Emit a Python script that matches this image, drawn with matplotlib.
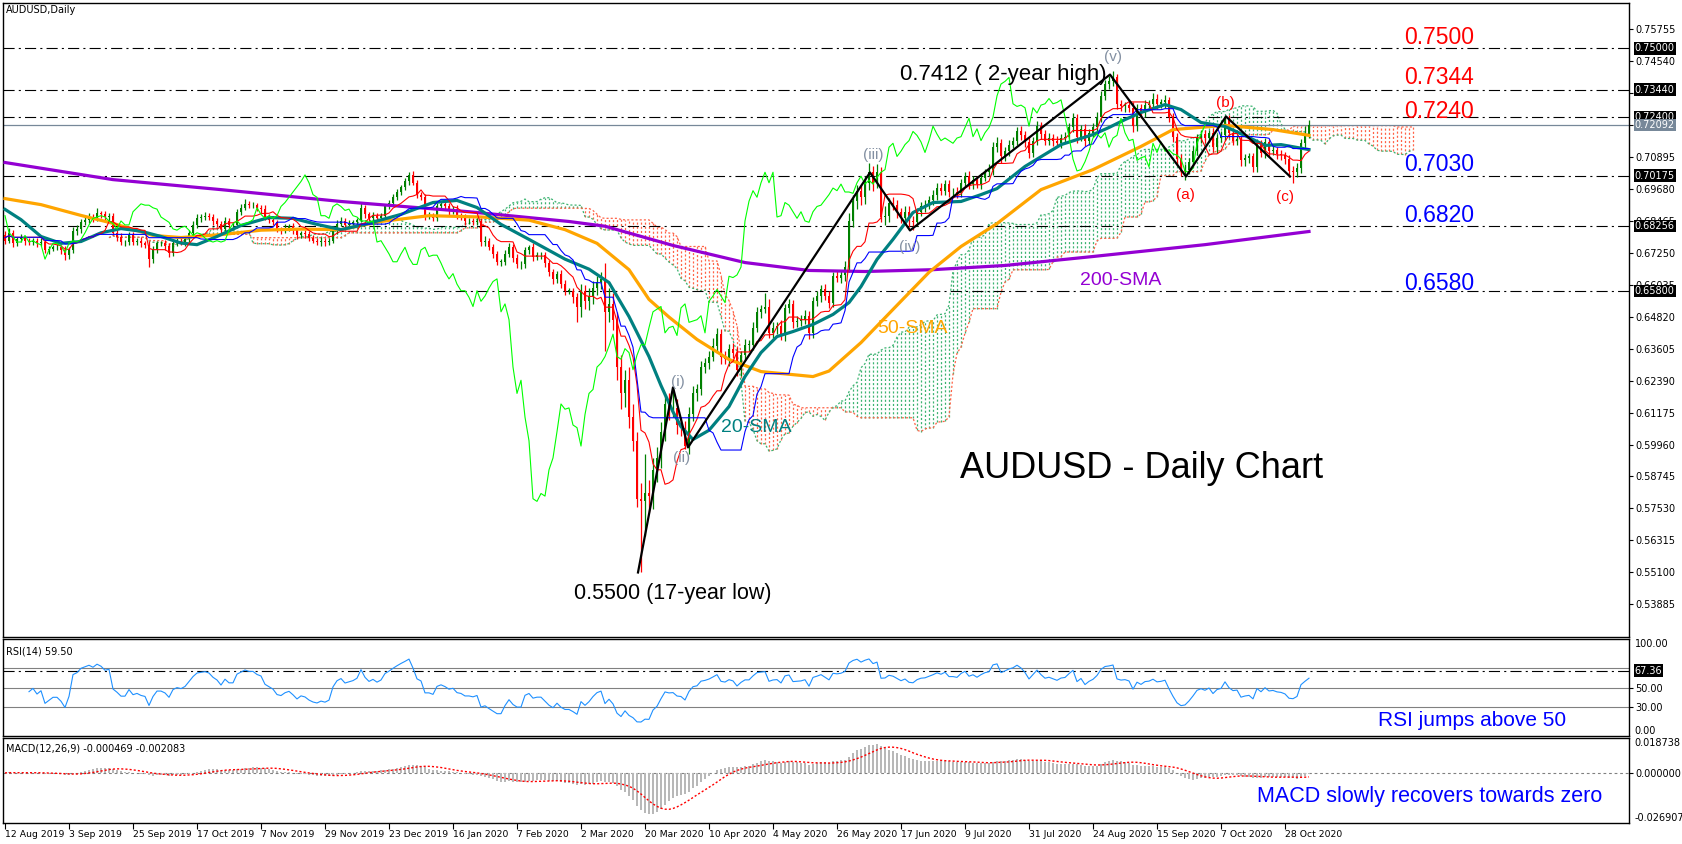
import numpy as np
import pandas as pd
import matplotlib
matplotlib.use('Agg')
import matplotlib.pyplot as plt
import matplotlib.transforms as mtransforms

plt.rcParams['font.family'] = ['Liberation Sans', 'DejaVu Sans']
plt.rcParams['lines.scale_dashes'] = False

# daily closes in pips (0.0001), one row = 16 bars = one date label step
closes_pips = [
    6770, 6800, 6760, 6775, 6780, 6770, 6765, 6770, 6760, 6765, 6735, 6740, 6745, 6745, 6735, 6715,
    6735, 6805, 6815, 6840, 6850, 6860, 6855, 6875, 6870, 6860, 6865, 6800, 6785, 6765, 6765, 6790,
    6765, 6770, 6760, 6755, 6700, 6735, 6760, 6760, 6750, 6725, 6760, 6770, 6765, 6775, 6800, 6830,
    6855, 6860, 6865, 6860, 6845, 6835, 6815, 6845, 6830, 6830, 6880, 6895, 6910, 6905, 6905, 6895,
    6890, 6860, 6850, 6840, 6815, 6810, 6820, 6825, 6810, 6790, 6800, 6795, 6780, 6770, 6765, 6770,
    6765, 6770, 6810, 6835, 6845, 6830, 6835, 6840, 6850, 6895, 6870, 6855, 6865, 6855, 6865, 6900,
    6915, 6935, 6955, 6975, 6995, 7020, 6990, 6945, 6935, 6865, 6865, 6855, 6900, 6910, 6900, 6885,
    6890, 6865, 6860, 6845, 6845, 6840, 6845, 6765, 6770, 6745, 6720, 6690, 6690, 6720, 6745, 6705,
    6680, 6680, 6735, 6745, 6710, 6715, 6715, 6685, 6650, 6625, 6645, 6605, 6580, 6580, 6555, 6520,
    6580, 6540, 6560, 6590, 6615, 6625, 6500, 6530, 6470, 6290, 6190, 6240, 6100, 6010, 5790, 5780,
    5810, 5800, 5900, 5945, 6045, 6150, 6130, 6135, 6070, 6060, 5990, 6110, 6190, 6205, 6290, 6305,
    6330, 6370, 6415, 6330, 6320, 6360, 6345, 6280, 6335, 6375, 6375, 6440, 6500, 6510, 6520, 6420,
    6440, 6445, 6410, 6515, 6530, 6460, 6465, 6470, 6485, 6420, 6540, 6560, 6585, 6560, 6535, 6635,
    6630, 6640, 6670, 6845, 6920, 6960, 6935, 6990, 7030, 6990, 7030, 6860, 6865, 6915, 6905, 6880,
    6855, 6880, 6845, 6840, 6880, 6900, 6905, 6925, 6945, 6970, 6960, 6985, 6955, 6955, 6950, 6990,
    7015, 6985, 7000, 6985, 7010, 7030, 7040, 7125, 7140, 7090, 7110, 7135, 7150, 7185, 7170, 7145,
    7105, 7150, 7205, 7175, 7150, 7160, 7150, 7140, 7160, 7165, 7200, 7235, 7165, 7195, 7150, 7180,
    7200, 7240, 7320, 7365, 7375, 7390, 7290, 7280, 7285, 7275, 7205, 7275, 7255, 7285, 7290, 7310,
    7290, 7295, 7305, 7240, 7165, 7080, 7035, 7040, 7070, 7110, 7160, 7175, 7160, 7180, 7125, 7160,
    7170, 7235, 7180, 7150, 7155, 7075, 7085, 7090, 7050, 7140, 7105, 7145, 7110, 7115, 7100, 7095,
    7080, 7035, 7030, 7045, 7140, 7175, 7209,
]
first_open_pips = 6790

# wick lengths above / below the candle body, in pips
upper_wick_pips = [
    15, 20, 12, 10, 14, 8, 12, 10, 9, 14, 12, 10, 8, 12, 10, 14,
    10, 18, 14, 12, 10, 14, 10, 18, 8, 12, 10, 10, 12, 14, 8, 12,
    12, 10, 14, 10, 12, 14, 10, 8, 12, 10, 14, 10, 16, 12, 10, 14,
    18, 12, 14, 10, 12, 10, 8, 14, 10, 12, 10, 14, 20, 10, 12, 10,
    12, 14, 10, 12, 10, 8, 12, 10, 14, 10, 8, 12, 10, 12, 10, 14,
    12, 10, 14, 12, 16, 10, 12, 10, 8, 20, 12, 10, 14, 10, 12, 10,
    8, 12, 10, 8, 12, 12, 16, 12, 10, 12, 14, 10, 12, 10, 14, 12,
    10, 14, 12, 10, 12, 10, 14, 12, 18, 10, 14, 12, 10, 14, 16, 12,
    14, 12, 12, 10, 16, 12, 14, 12, 10, 14, 10, 12, 14, 10, 12, 18,
    24, 20, 30, 26, 22, 25, 60, 60, 40, 30, 45, 40, 50, 50, 35, 60,
    150, 50, 45, 40, 35, 30, 40, 78, 35, 30, 25, 30, 28, 20, 25, 20,
    22, 30, 25, 18, 20, 18, 20, 22, 18, 20, 18, 22, 20, 16, 50, 30,
    20, 18, 22, 16, 20, 14, 18, 16, 20, 18, 16, 20, 16, 22, 18, 16,
    20, 18, 22, 30, 25, 22, 20, 25, 34, 24, 30, 20, 35, 18, 22, 20,
    16, 20, 22, 18, 14, 16, 18, 14, 16, 18, 20, 14, 16, 14, 18, 16,
    16, 18, 14, 16, 18, 14, 20, 18, 22, 16, 14, 18, 14, 18, 20, 16,
    18, 14, 20, 16, 14, 18, 14, 16, 14, 18, 16, 20, 16, 14, 18, 16,
    16, 20, 18, 16, 20, 23, 14, 16, 12, 18, 20, 14, 16, 18, 14, 20,
    16, 14, 18, 12, 16, 14, 18, 20, 16, 18, 14, 16, 14, 12, 18, 14,
    16, 8, 14, 16, 12, 14, 16, 12, 14, 18, 14, 16, 12, 14, 12, 14,
    12, 14, 18, 20, 16, 30, 20,
]
lower_wick_pips = [
    12, 10, 14, 12, 10, 16, 10, 12, 14, 10, 12, 14, 10, 12, 16, 20,
    14, 10, 12, 14, 10, 12, 14, 10, 12, 10, 14, 10, 16, 12, 14, 10,
    10, 12, 14, 12, 30, 14, 12, 10, 14, 18, 12, 10, 12, 14, 10, 12,
    10, 14, 12, 10, 16, 12, 18, 12, 14, 10, 12, 14, 10, 12, 10, 14,
    16, 12, 14, 10, 12, 14, 10, 12, 14, 12, 10, 14, 12, 10, 12, 14,
    14, 12, 10, 14, 10, 12, 10, 14, 12, 10, 14, 12, 10, 14, 12, 10,
    10, 12, 10, 12, 14, 12, 10, 14, 12, 16, 14, 12, 10, 14, 12, 16,
    12, 14, 10, 14, 12, 10, 12, 16, 14, 12, 14, 12, 16, 14, 12, 16,
    14, 18, 12, 14, 16, 12, 14, 16, 14, 18, 14, 16, 18, 14, 20, 60,
    40, 30, 35, 30, 25, 30, 150, 40, 40, 50, 60, 50, 40, 40, 30, 270,
    130, 60, 50, 45, 40, 35, 40, 30, 35, 30, 10, 30, 25, 28, 22, 24,
    22, 18, 25, 30, 20, 24, 20, 25, 22, 18, 24, 20, 18, 22, 16, 20,
    20, 24, 18, 20, 18, 22, 18, 20, 16, 24, 20, 18, 22, 16, 20, 18,
    18, 20, 22, 20, 24, 30, 28, 24, 26, 32, 20, 20, 30, 24, 20, 22,
    18, 20, 22, 30, 16, 18, 20, 16, 18, 20, 16, 18, 20, 16, 18, 14,
    16, 18, 20, 16, 18, 14, 16, 20, 18, 24, 16, 18, 14, 16, 18, 20,
    20, 16, 18, 20, 16, 18, 20, 16, 18, 14, 16, 18, 24, 16, 20, 18,
    16, 18, 20, 16, 18, 16, 20, 18, 22, 16, 24, 18, 20, 16, 18, 16,
    18, 16, 20, 18, 22, 24, 20, 34, 18, 20, 16, 18, 20, 16, 18, 20,
    16, 18, 20, 18, 16, 20, 22, 18, 20, 18, 16, 20, 18, 16, 20, 18,
    20, 22, 39, 18, 16, 20, 16,
]

# moving averages (bar index, value in pips)
sma20_bars = [0, 4, 9, 14, 19, 24, 29, 34, 39, 44, 48, 53, 59, 66, 72, 78, 84, 90, 99, 107,
              113, 118, 124, 131, 140, 146, 151, 156, 161, 164, 167, 169, 172, 176, 181, 185,
              189, 193, 197, 202, 207, 211, 214, 218, 222, 227, 232, 239, 244, 248, 255, 264,
              272, 276, 280, 284, 290, 294, 299, 305, 311, 315, 319, 326]
sma20_vals = [6889, 6850, 6786, 6760, 6767, 6800, 6816, 6806, 6786, 6761, 6755, 6786, 6828, 6858,
              6855, 6832, 6812, 6832, 6870, 6915, 6923, 6896, 6832, 6775, 6700, 6662, 6611, 6482,
              6330, 6220, 6120, 6064, 6015, 6050, 6140, 6254, 6345, 6406, 6425, 6452, 6490, 6535,
              6596, 6699, 6775, 6877, 6915, 6919, 6945, 6968, 7052, 7135, 7173, 7200, 7230, 7257,
              7287, 7268, 7219, 7204, 7162, 7132, 7135, 7116]
sma50_bars = [0, 9, 19, 27, 37, 44, 54, 64, 74, 84, 94, 106, 119, 131, 140, 148, 156, 161, 166,
              173, 181, 189, 202, 206, 214, 222, 231, 239, 248, 259, 272, 284, 292, 305, 317, 326]
sma50_vals = [6930, 6907, 6866, 6836, 6790, 6782, 6793, 6810, 6814, 6812, 6843, 6865, 6860, 6848,
              6812, 6760, 6660, 6547, 6480, 6395, 6319, 6273, 6254, 6275, 6383, 6509, 6650, 6748,
              6835, 6964, 7040, 7128, 7192, 7208, 7192, 7170]
sma200_bars = [0, 27, 54, 84, 116, 141, 150, 167, 185, 201, 215, 232, 250, 272, 300, 326]
sma200_vals = [7067, 7002, 6964, 6919, 6880, 6843, 6825, 6752, 6687, 6657, 6653, 6660, 6676,
               6710, 6755, 6805]

# elliott wave path
wave_bars = [158.25, 167, 170.75, 216.25, 226.25, 276.25, 295.25, 305.25, 321.25]
wave_prices = [0.5510, 0.6213, 0.5985, 0.7029, 0.6809, 0.7401, 0.7014, 0.7242, 0.7014]
wave_labels = ['(i)', '(ii)', '(iii)', '(iv)', '(v)', '(a)', '(b)', '(c)']
wave_label_bars = [168.25, 169.25, 217, 226.25, 277, 295, 305, 320]
wave_label_prices = [0.6232, 0.5945, 0.7096, 0.6746, 0.7468, 0.6944, 0.7293, 0.6936]

# horizontal levels
level_values = [0.75000, 0.73440, 0.72400, 0.70175, 0.68256, 0.65800]
level_texts = ['0.7500', '0.7344', '0.7240', '0.7030', '0.6820', '0.6580']
level_text_prices = [0.7540, 0.7388, 0.7259, 0.7061, 0.6864, 0.6606]
level_text_colors = ['#ff0000', '#ff0000', '#ff0000', '#0000ff', '#0000ff', '#0000ff']
last_price = 0.72092

price_ticks = [0.75755, 0.74540, 0.73325, 0.72110, 0.70895, 0.69680, 0.68465, 0.67250, 0.66035,
               0.64820, 0.63605, 0.62390, 0.61175, 0.59960, 0.58745, 0.57530, 0.56315, 0.55100,
               0.53885]
hidden_ticks = [0.73325, 0.72110]   # covered by the level boxes

date_labels = ['12 Aug 2019', '3 Sep 2019', '25 Sep 2019', '17 Oct 2019', '7 Nov 2019',
               '29 Nov 2019', '23 Dec 2019', '16 Jan 2020', '7 Feb 2020', '2 Mar 2020',
               '20 Mar 2020', '10 Apr 2020', '4 May 2020', '26 May 2020', '17 Jun 2020',
               '9 Jul 2020', '31 Jul 2020', '24 Aug 2020', '15 Sep 2020', '7 Oct 2020',
               '28 Oct 2020']
label_step = 16

# ---- prices
close = np.array(closes_pips) / 10000
opens = np.concatenate([[first_open_pips / 10000], close[:-1]])
high = np.maximum(opens, close) + np.array(upper_wick_pips) / 10000
low = np.minimum(opens, close) - np.array(lower_wick_pips) / 10000
n = len(close)
bars = np.arange(n)

# ---- ichimoku (9, 26, 52)
hs, ls, cs = pd.Series(high), pd.Series(low), pd.Series(close)
tenkan = (hs.rolling(9, min_periods=1).max() + ls.rolling(9, min_periods=1).min()) / 2
kijun = (hs.rolling(26, min_periods=1).max() + ls.rolling(26, min_periods=1).min()) / 2
span_a = ((tenkan + kijun) / 2).values
span_b = ((hs.rolling(52, min_periods=1).max() + ls.rolling(52, min_periods=1).min()) / 2).values
cloud_x = bars + 26

# ---- rsi(14) and macd(12,26,9)
delta = cs.diff()
gain = delta.clip(lower=0).ewm(alpha=1 / 14, adjust=True, min_periods=6).mean()
loss = (-delta.clip(upper=0)).ewm(alpha=1 / 14, adjust=True, min_periods=6).mean()
rsi = 100 - 100 / (1 + gain / loss)
macd = cs.ewm(span=12, adjust=False).mean() - cs.ewm(span=26, adjust=False).mean()
signal = macd.rolling(9, min_periods=1).mean()

# ---- figure
W, H = 1682, 844
fig = plt.figure(figsize=(W / 100, H / 100), dpi=100, facecolor='white')


def px_axes(l, t, r, b):
    return fig.add_axes([l / W, 1 - b / H, (r - l) / W, (b - t) / H])


ax = px_axes(3, 3, 1629, 637)
ax_rsi = px_axes(3, 639, 1629, 736)
ax_macd = px_axes(3, 738, 1629, 823)
XMIN, XMAX = -0.5, 406

small = dict(family='DejaVu Sans', fontsize=7)

# ---- main panel
green, red = '#008000', '#ff0000'
span_green, span_red = '#3cb371', '#ff6347'
for j in range(n):
    col = span_green if span_a[j] >= span_b[j] else span_red
    ax.vlines(cloud_x[j], min(span_a[j], span_b[j]), max(span_a[j], span_b[j]),
              colors=col, linewidth=0.9, linestyles=(0, (1.5, 1.5)), zorder=1)
ax.plot(cloud_x, span_a, color=span_green, lw=0.9, ls=(0, (1.5, 1.5)), zorder=1)
ax.plot(cloud_x, span_b, color=span_red, lw=0.9, ls=(0, (1.5, 1.5)), zorder=1)

for lvl in level_values:
    ax.axhline(lvl, color='black', lw=0.8, ls=(0, (8, 3, 1.5, 3)), zorder=1.5)
ax.axhline(last_price, color='#778899', lw=0.9, zorder=1.5)

cols = np.where(close >= opens, green, red)
ax.vlines(bars, low, high, colors=cols, linewidth=0.9, zorder=3)
body = np.maximum(np.abs(close - opens), 0.00012)
ax.bar(bars, body, bottom=np.minimum(opens, close), width=0.65, color=cols, linewidth=0, zorder=3)

ax.plot(sma200_bars, np.array(sma200_vals) / 10000, color='#9400d3', lw=2.3, zorder=4)
ax.plot(sma50_bars, np.array(sma50_vals) / 10000, color='#ffa500', lw=2.3, zorder=4)
ax.plot(sma20_bars, np.array(sma20_vals) / 10000, color='#008080', lw=2.3, zorder=4)
ax.plot(bars, tenkan, color='#ff0000', lw=0.8, zorder=4.5)
ax.plot(bars, kijun, color='#0000ff', lw=0.8, zorder=4.5)
ax.plot(bars[:-26], close[26:], color='#00ff00', lw=0.8, zorder=4.5)

ax.plot(wave_bars, wave_prices, color='black', lw=1.6, zorder=6)
for t, xb, yp in zip(wave_labels, wave_label_bars, wave_label_prices):
    c = '#ff0000' if t in ('(a)', '(b)', '(c)') else '#8390a2'
    ax.text(xb, yp, t, color=c, fontsize=11, ha='center', va='center', zorder=7)

for t, yp, c in zip(level_texts, level_text_prices, level_text_colors):
    ax.text(358.5, yp, t, color=c, fontsize=16.5, ha='center', va='center', zorder=7)

ax.text(249.5, 0.7402, '0.7412 ( 2-year high)', fontsize=16, ha='center', va='center', zorder=7)
ax.text(167, 0.5432, '0.5500 (17-year low)', fontsize=15.5, ha='center', va='center', zorder=7)
ax.text(284.25, 0.5903, 'AUDUSD - Daily Chart', fontsize=26, ha='center', va='center', zorder=7)
ax.text(279, 0.6617, '200-SMA', color='#9400d3', fontsize=14, ha='center', va='center', zorder=7)
ax.text(226.75, 0.6438, '50-SMA', color='#ffa500', fontsize=14, ha='center', va='center', zorder=7)
ax.text(187.75, 0.6059, '20-SMA', color='#008080', fontsize=14, ha='center', va='center', zorder=7)
ax.text(0.002, 0.989, 'AUDUSD,Daily', transform=ax.transAxes, va='center', ha='left', **small)

ax.set_xlim(XMIN, XMAX)
ax.set_ylim(0.52649, 0.76728)
ax.set_xticks([])
ax.yaxis.tick_right()
ax.set_yticks(price_ticks)
ax.set_yticklabels(['' if v in hidden_ticks else f'{v:.5f}' for v in price_ticks], **small)
ax.tick_params(axis='y', length=3, pad=1.5)

trans = mtransforms.blended_transform_factory(ax.transAxes, ax.transData)
for lvl in level_values + [last_price]:
    fc = '#778899' if lvl == last_price else 'black'
    ax.text(1.0035, lvl, f'{lvl:.5f}', transform=trans, color='white', va='center', ha='left',
            bbox=dict(boxstyle='square,pad=0.12', fc=fc, ec='none'), clip_on=False, zorder=10, **small)

# ---- rsi panel
for lvl in (30, 50, 70):
    ax_rsi.axhline(lvl, color='#808080', lw=0.8, zorder=1)
ax_rsi.axhline(67.36, color='black', lw=0.8, ls=(0, (8, 3, 1.5, 3)), zorder=1.5)
ax_rsi.plot(bars, rsi, color='#1e90ff', lw=0.8, zorder=3)
ax_rsi.set_xlim(XMIN, XMAX)
ax_rsi.set_ylim(0, 100)
ax_rsi.set_xticks([])
ax_rsi.yaxis.tick_right()
ax_rsi.set_yticks([30, 50])
ax_rsi.set_yticklabels(['30.00', '50.00'], **small)
ax_rsi.tick_params(axis='y', length=3, pad=1.5)
rtrans = mtransforms.blended_transform_factory(ax_rsi.transAxes, ax_rsi.transData)
ax_rsi.text(1.0035, 94.5, '100.00', transform=rtrans, va='center', ha='left', clip_on=False, **small)
ax_rsi.text(1.0035, 5.5, '0.00', transform=rtrans, va='center', ha='left', clip_on=False, **small)
ax_rsi.text(1.0035, 67.36, '67.36', transform=rtrans, color='white', va='center', ha='left',
            bbox=dict(boxstyle='square,pad=0.12', fc='black', ec='none'), clip_on=False, zorder=10, **small)
ax_rsi.text(0.002, 0.87, 'RSI(14) 59.50', transform=ax_rsi.transAxes, va='center', ha='left', **small)
ax_rsi.text(366.75, 15.5, 'RSI jumps above 50', color='#0000ff', fontsize=15, ha='center', va='center')

# ---- macd panel
ax_macd.bar(bars, macd, width=0.45, color='#b8b8b8', linewidth=0, zorder=2)
ax_macd.axhline(0, color='#808080', lw=0.8, ls=(0, (2, 2)), zorder=1)
ax_macd.plot(bars, signal, color='#ff0000', lw=1, ls=(0, (1.5, 1.5)), zorder=3)
ax_macd.set_xlim(XMIN, XMAX)
ax_macd.set_ylim(-0.026907, 0.018738)
ax_macd.yaxis.tick_right()
ax_macd.set_yticks([0])
ax_macd.set_yticklabels(['0.000000'], **small)
ax_macd.tick_params(axis='y', length=3, pad=1.5)
mtrans = mtransforms.blended_transform_factory(ax_macd.transAxes, ax_macd.transData)
ax_macd.text(1.0035, 0.0161, '0.018738', transform=mtrans, va='center', ha='left', clip_on=False, **small)
ax_macd.text(1.0035, -0.0243, '-0.026907', transform=mtrans, va='center', ha='left', clip_on=False, **small)
ax_macd.text(0.002, 0.88, 'MACD(12,26,9) -0.000469 -0.002083', transform=ax_macd.transAxes,
             va='center', ha='left', **small)
ax_macd.text(356.25, -0.0129, 'MACD slowly recovers towards zero', color='#0000ff', fontsize=15.5,
             ha='center', va='center')

label_bars = np.arange(len(date_labels)) * label_step
ax_macd.set_xticks(label_bars)
ax_macd.set_xticklabels(date_labels, ha='left', family='DejaVu Sans', fontsize=6.7)
ax_macd.tick_params(axis='x', length=4, pad=1)

for a in (ax, ax_rsi, ax_macd):
    for s in a.spines.values():
        s.set_color('black')
        s.set_linewidth(1)

fig.savefig('out.png', dpi=100, facecolor='white')
